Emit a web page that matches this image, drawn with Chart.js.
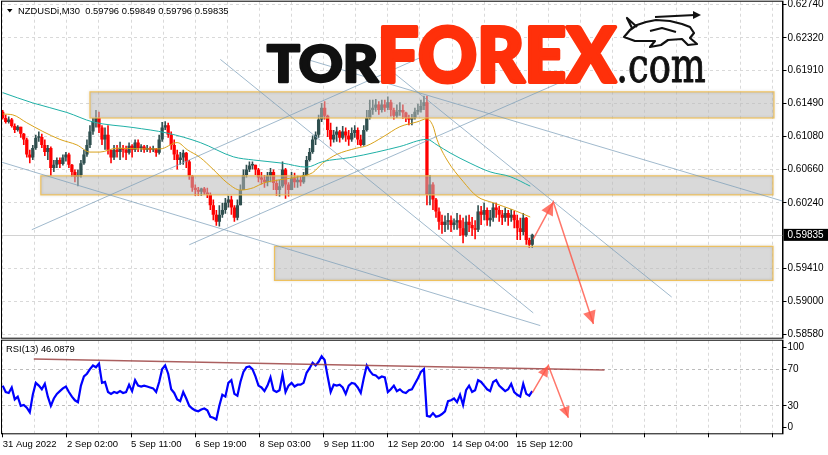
<!DOCTYPE html>
<html>
<head>
<meta charset="utf-8">
<title>NZDUSDi M30</title>
<script src="https://cdn.jsdelivr.net/npm/chart.js@4.4.1/dist/chart.umd.min.js"></script>
<style>
  html, body { margin: 0; padding: 0; background: #fff; }
  canvas { position: absolute; left: 0; }
</style>
</head>
<body>
<canvas id="priceChart" style="top:0" width="828" height="339"></canvas>
<canvas id="rsiChart" style="top:339px" width="828" height="116"></canvas>
<script>
// each drawn candle covers three M30 bars
const BARS_PER_CANDLE = 3;

const opens = [
  0.6139,0.6131,0.6126,0.6129,0.6121,0.6116,0.6120,0.6111,0.6104,0.6085,
  0.6081,0.6093,0.6106,0.6107,0.6097,0.6088,0.6093,0.6068,0.6072,0.6078,
  0.6073,0.6081,0.6085,0.6072,0.6063,0.6057,0.6059,0.6074,0.6085,0.6097,
  0.6114,0.6126,0.6131,0.6119,0.6104,0.6110,0.6091,0.6081,0.6091,0.6088,
  0.6093,0.6091,0.6087,0.6096,0.6091,0.6100,0.6093,0.6095,0.6091,0.6093,
  0.6091,0.6092,0.6087,0.6104,0.6119,0.6122,0.6110,0.6097,0.6085,0.6078,
  0.6081,0.6087,0.6076,0.6058,0.6043,0.6040,0.6038,0.6042,0.6037,0.6034,
  0.6021,0.6009,0.6000,0.6009,0.6015,0.6024,0.6028,0.6018,0.6005,0.6021,
  0.6040,0.6059,0.6066,0.6071,0.6072,0.6066,0.6056,0.6053,0.6050,0.6058,
  0.6063,0.6049,0.6040,0.6045,0.6066,0.6047,0.6040,0.6055,0.6050,0.6053,
  0.6050,0.6059,0.6078,0.6088,0.6104,0.6110,0.6129,0.6144,0.6134,0.6116,
  0.6104,0.6110,0.6114,0.6106,0.6114,0.6109,0.6104,0.6112,0.6116,0.6104,
  0.6097,0.6116,0.6131,0.6141,0.6144,0.6148,0.6141,0.6148,0.6144,0.6151,
  0.6141,0.6134,0.6139,0.6141,0.6138,0.6131,0.6129,0.6131,0.6139,0.6141,
  0.6146,0.6151,0.6034,0.6047,0.6028,0.6013,0.6000,0.5996,0.6000,0.6002,
  0.5996,0.5999,0.6002,0.5992,0.5983,0.6000,0.5996,0.5992,0.5990,0.6013,
  0.6009,0.6015,0.6002,0.6005,0.6018,0.6015,0.6009,0.6005,0.6011,0.6005,
  0.6009,0.6002,0.5992,0.5987,0.6005,0.5977,0.5971
];
const highs = [
  0.6141,0.6135,0.6133,0.6131,0.6124,0.6122,0.6120,0.6112,0.6106,0.6091,
  0.6097,0.6110,0.6114,0.6111,0.6104,0.6097,0.6095,0.6078,0.6081,0.6081,
  0.6085,0.6088,0.6087,0.6073,0.6066,0.6066,0.6078,0.6091,0.6104,0.6122,
  0.6131,0.6141,0.6139,0.6122,0.6119,0.6122,0.6091,0.6097,0.6097,0.6101,
  0.6097,0.6096,0.6100,0.6098,0.6104,0.6104,0.6098,0.6097,0.6097,0.6095,
  0.6096,0.6093,0.6110,0.6126,0.6127,0.6125,0.6114,0.6104,0.6091,0.6088,
  0.6091,0.6088,0.6078,0.6059,0.6047,0.6044,0.6043,0.6044,0.6043,0.6037,
  0.6028,0.6015,0.6021,0.6024,0.6030,0.6033,0.6033,0.6021,0.6028,0.6047,
  0.6066,0.6072,0.6076,0.6076,0.6072,0.6068,0.6063,0.6059,0.6063,0.6068,
  0.6066,0.6053,0.6053,0.6076,0.6068,0.6050,0.6063,0.6062,0.6058,0.6057,
  0.6063,0.6083,0.6093,0.6109,0.6114,0.6135,0.6150,0.6152,0.6135,0.6125,
  0.6116,0.6120,0.6116,0.6121,0.6119,0.6116,0.6119,0.6122,0.6119,0.6110,
  0.6122,0.6141,0.6154,0.6154,0.6155,0.6152,0.6154,0.6154,0.6158,0.6154,
  0.6144,0.6148,0.6151,0.6148,0.6139,0.6135,0.6136,0.6144,0.6149,0.6154,
  0.6159,0.6159,0.6059,0.6050,0.6030,0.6018,0.6009,0.6008,0.6011,0.6008,
  0.6004,0.6011,0.6009,0.6005,0.6008,0.6009,0.6006,0.6002,0.6021,0.6020,
  0.6024,0.6018,0.6015,0.6024,0.6024,0.6020,0.6015,0.6018,0.6015,0.6016,
  0.6014,0.6009,0.6005,0.6011,0.6006,0.5980,0.5985
];
const lows = [
  0.6129,0.6124,0.6124,0.6119,0.6112,0.6114,0.6106,0.6097,0.6081,0.6074,
  0.6078,0.6091,0.6101,0.6093,0.6083,0.6078,0.6058,0.6063,0.6068,0.6068,
  0.6071,0.6076,0.6068,0.6057,0.6050,0.6045,0.6056,0.6072,0.6082,0.6093,
  0.6110,0.6119,0.6112,0.6097,0.6091,0.6085,0.6074,0.6078,0.6081,0.6078,
  0.6081,0.6078,0.6085,0.6081,0.6088,0.6088,0.6088,0.6087,0.6088,0.6087,
  0.6088,0.6082,0.6085,0.6101,0.6116,0.6106,0.6091,0.6078,0.6066,0.6072,
  0.6072,0.6068,0.6053,0.6038,0.6033,0.6033,0.6033,0.6034,0.6030,0.6015,
  0.6002,0.5995,0.5994,0.6005,0.6010,0.6018,0.6009,0.6000,0.6002,0.6021,
  0.6040,0.6056,0.6063,0.6066,0.6059,0.6050,0.6047,0.6043,0.6045,0.6050,
  0.6040,0.6033,0.6032,0.6043,0.6029,0.6032,0.6040,0.6043,0.6043,0.6045,
  0.6048,0.6058,0.6076,0.6086,0.6097,0.6106,0.6126,0.6129,0.6107,0.6095,
  0.6100,0.6101,0.6100,0.6104,0.6101,0.6096,0.6101,0.6106,0.6097,0.6095,
  0.6096,0.6114,0.6129,0.6135,0.6139,0.6135,0.6138,0.6139,0.6141,0.6133,
  0.6129,0.6131,0.6134,0.6130,0.6126,0.6122,0.6122,0.6129,0.6135,0.6138,
  0.6141,0.6021,0.6021,0.6015,0.6005,0.5990,0.5985,0.5987,0.5990,0.5987,
  0.5990,0.5990,0.5982,0.5973,0.5981,0.5987,0.5982,0.5978,0.5987,0.5996,
  0.6002,0.5995,0.5994,0.6000,0.6005,0.6000,0.5996,0.6000,0.5995,0.6000,
  0.5992,0.5977,0.5977,0.5983,0.5971,0.5967,0.5967
];
const closes = [
  0.6131,0.6126,0.6129,0.6121,0.6116,0.6120,0.6111,0.6104,0.6085,0.6081,
  0.6093,0.6106,0.6107,0.6097,0.6088,0.6093,0.6068,0.6072,0.6078,0.6073,
  0.6081,0.6085,0.6072,0.6063,0.6057,0.6059,0.6074,0.6085,0.6097,0.6114,
  0.6126,0.6131,0.6119,0.6104,0.6110,0.6091,0.6081,0.6091,0.6088,0.6093,
  0.6091,0.6087,0.6096,0.6091,0.6100,0.6093,0.6095,0.6091,0.6093,0.6091,
  0.6092,0.6087,0.6104,0.6119,0.6122,0.6110,0.6097,0.6085,0.6078,0.6081,
  0.6087,0.6076,0.6058,0.6043,0.6040,0.6038,0.6042,0.6037,0.6034,0.6021,
  0.6009,0.6000,0.6009,0.6015,0.6024,0.6028,0.6018,0.6005,0.6021,0.6040,
  0.6059,0.6066,0.6071,0.6072,0.6066,0.6056,0.6053,0.6050,0.6058,0.6063,
  0.6049,0.6040,0.6045,0.6066,0.6047,0.6040,0.6055,0.6050,0.6053,0.6050,
  0.6059,0.6078,0.6088,0.6104,0.6110,0.6129,0.6144,0.6134,0.6116,0.6104,
  0.6110,0.6114,0.6106,0.6114,0.6109,0.6104,0.6112,0.6116,0.6104,0.6097,
  0.6116,0.6131,0.6141,0.6144,0.6148,0.6141,0.6148,0.6144,0.6151,0.6141,
  0.6134,0.6139,0.6141,0.6138,0.6131,0.6129,0.6131,0.6139,0.6141,0.6146,
  0.6151,0.6034,0.6047,0.6028,0.6013,0.6000,0.5996,0.6000,0.6002,0.5996,
  0.5999,0.6002,0.5992,0.5983,0.6000,0.5996,0.5992,0.5990,0.6013,0.6009,
  0.6015,0.6002,0.6005,0.6018,0.6015,0.6009,0.6005,0.6011,0.6005,0.6009,
  0.6002,0.5992,0.5987,0.6005,0.5977,0.5971,0.59835
];
const rsiValues = [
  52,45,44,50,37,40,30,31,28,23, 42,55,52,48,54,40,30,38,43,46,
  49,51,45,40,36,34,52,62,65,70, 74,72,76,55,56,45,43,45,44,46,
  44,45,53,46,58,52,51,52,51,50, 49,45,56,70,74,65,48,44,37,35,
  45,38,30,27,25,24,26,27,25,18, 17,15,30,42,40,55,58,43,41,56,
  67,72,73,70,62,52,50,46,52,61, 47,45,47,64,45,52,55,51,53,53,
  55,66,71,77,74,78,84,80,62,45, 53,52,53,50,43,52,55,54,50,44,
  60,74,68,64,63,60,62,61,45,48, 52,46,48,45,44,47,48,54,60,67,
  70,19,18,22,18,19,21,24,35,36, 38,34,42,31,47,52,45,47,58,56,
  52,48,46,56,58,52,49,46,48,54, 45,42,40,54,43,41,46.09
];

// moving averages, sampled along the curve (bar index, price)
const maFastBars = [0,10,24,40,57,74,87,97,114,137,157,174,184,197,210,224,237,250,260,276,296,309,319,333,353,363,379,396,413,423,429,433,443,459,473,489,509,526];
const maFastValues = [0.6136,0.6135,0.6125,0.6114,0.6104,0.6097,0.6088,0.6088,0.6093,0.6092,0.6092,0.6100,0.6091,0.6081,0.6066,0.6049,0.6040,0.6043,0.6049,0.6053,0.6057,0.6062,0.6074,0.6085,0.6093,0.6096,0.6107,0.6120,0.6126,0.6130,0.6121,0.6104,0.6078,0.6051,0.6032,0.6024,0.6015,0.6006];
const maSlowBars = [0,30,64,90,130,164,197,230,250,279,303,319,346,373,396,423,433,446,466,486,506,526];
const maSlowValues = [0.6163,0.6150,0.6138,0.6126,0.6119,0.6112,0.6100,0.6082,0.6078,0.6074,0.6069,0.6076,0.6081,0.6088,0.6095,0.6104,0.6097,0.6087,0.6074,0.6063,0.6057,0.6045];

// support / resistance zones
const zoneStartBar = [87, 38, 271];
const zoneEndBar = [769, 768, 768];
const zoneHigh = [0.6164, 0.6058, 0.5969];
const zoneLow = [0.6131, 0.6034, 0.5926];

// trend lines
const trendStartBar = [-3, 217, 29, 186, 384, 298];
const trendStartPrice = [0.6076, 0.6205, 0.5990, 0.5971, 0.6194, 0.6207];
const trendEndBar = [536, 529, 416, 556, 667, 823];
const trendEndPrice = [0.5869, 0.5885, 0.6207, 0.6176, 0.5905, 0.6009];

// forecast arrows
const mainArrowBars = [529, 549, 589];
const mainArrowPrices = [0.5978, 0.6025, 0.5871];
const rsiArrowBars = [528, 544, 564];
const rsiArrowValues = [44, 74, 17];
const rsiTrendBars = [31, 600];
const rsiTrendValues = [81, 69];

const priceTicks = [0.6274, 0.6232, 0.6191, 0.6149, 0.6108, 0.6066, 0.6024, 0.5941, 0.5900, 0.5858];
const dateLabels = ['31 Aug 2022', '2 Sep 02:00', '5 Sep 11:00', '6 Sep 19:00', '8 Sep 03:00', '9 Sep 11:00', '12 Sep 20:00', '14 Sep 04:00', '15 Sep 12:00'];
const rsiTickAnchors = [6.5, 30, 70, 93.5];   // 0 and 100 sit just inside the pane, as in the terminal
const rsiTickLabels = ['0', '30', '70', '100'];
const rsiLevels = [30, 70];
const headerOHLC = [0.59796, 0.59849, 0.59796, 0.59835];
const lastPrice = 0.59835;
const rsiLast = 46.0879;

const BAR_MIN = -0.7, BAR_MAX = 777.5;
const PRICE_MIN = 0.58537, PRICE_MAX = 0.62778;
const GRID_STEP = 32;
const AXIS_W = 45.5;

const BULL = '#2f4f4f', BEAR = '#ff0000';
const GRID = '#d9d9d9';
const TREND = 'rgba(120,155,182,0.7)';
const ARROW = 'rgba(255,85,70,0.8)';
const FONT = '"Liberation Sans", Arial, sans-serif';

Chart.defaults.font.family = FONT;
Chart.defaults.color = '#000';

const gridBars = Array.from({ length: Math.floor(BAR_MAX / GRID_STEP) + 1 }, (_, k) => k * GRID_STEP);
const candleX = opens.map((_, i) => i * BARS_PER_CANDLE);
const candleColors = closes.map((c, i) => (c >= opens[i] ? BULL : BEAR));
const pts = (xs, ys) => xs.map((x, i) => ({ x, y: ys[i] }));

// plot frame
const frame = {
  id: 'frame',
  afterDraw(chart) {
    const { ctx, chartArea: a } = chart;
    ctx.save();
    ctx.strokeStyle = '#000';
    ctx.lineWidth = 1;
    ctx.strokeRect(a.left - 0.5, a.top - 0.5, a.right - a.left + 1, a.bottom - a.top + 1);
    ctx.restore();
  }
};

// arrow heads on every segment end of datasets that ask for them
const arrowHeads = {
  id: 'arrowHeads',
  afterDatasetsDraw(chart) {
    const ctx = chart.ctx;
    chart.data.datasets.forEach((ds, di) => {
      if (!ds.arrowSize) return;
      const p = chart.getDatasetMeta(di).data;
      ctx.save();
      ctx.fillStyle = ds.borderColor;
      for (let j = 1; j < p.length; j++) {
        const ang = Math.atan2(p[j].y - p[j - 1].y, p[j].x - p[j - 1].x);
        const L = ds.arrowSize, W = ds.arrowSize * 0.5;
        const bx = p[j].x - L * Math.cos(ang), by = p[j].y - L * Math.sin(ang);
        ctx.beginPath();
        ctx.moveTo(p[j].x, p[j].y);
        ctx.lineTo(bx + W * Math.sin(ang), by - W * Math.cos(ang));
        ctx.lineTo(bx - W * Math.sin(ang), by + W * Math.cos(ang));
        ctx.closePath();
        ctx.fill();
      }
      ctx.restore();
    });
  }
};

// zones go on top of the candles, under the lines
const zones = {
  id: 'zones',
  afterDatasetDraw(chart, args) {
    if (!chart.data.datasets[args.index].zonesAfter) return;
    const { ctx, scales: { x, y } } = chart;
    ctx.save();
    zoneStartBar.forEach((b, k) => {
      const x0 = x.getPixelForValue(b), x1 = x.getPixelForValue(zoneEndBar[k]);
      const y0 = y.getPixelForValue(zoneHigh[k]), y1 = y.getPixelForValue(zoneLow[k]);
      ctx.fillStyle = 'rgba(185,185,185,0.55)';
      ctx.fillRect(x0, y0, x1 - x0, y1 - y0);
      ctx.shadowColor = 'rgba(0,0,0,0.2)';
      ctx.shadowBlur = 3;
      ctx.strokeStyle = 'rgba(240,190,80,0.9)';
      ctx.lineWidth = 1.2;
      ctx.strokeRect(x0, y0, x1 - x0, y1 - y0);
      ctx.shadowBlur = 0;
    });
    ctx.restore();
  }
};

// bid line, header, price label
const priceDecor = {
  id: 'priceDecor',
  beforeDatasetsDraw(chart) {
    const { ctx, chartArea: a, scales: { y } } = chart;
    const py = Math.round(y.getPixelForValue(lastPrice)) + 0.5;
    ctx.save();
    ctx.strokeStyle = '#d2d2d2';
    ctx.lineWidth = 1;
    ctx.beginPath(); ctx.moveTo(a.left, py); ctx.lineTo(a.right, py); ctx.stroke();
    ctx.restore();
  },
  afterDraw(chart) {
    const { ctx, chartArea: a, scales: { y } } = chart;
    ctx.save();
    ctx.fillStyle = '#000';
    ctx.beginPath(); ctx.moveTo(7, 9); ctx.lineTo(12.5, 9); ctx.lineTo(9.75, 12.5); ctx.closePath(); ctx.fill();
    ctx.font = '9.4px ' + FONT;
    ctx.textBaseline = 'middle';
    ctx.fillText('NZDUSDi,M30  ' + headerOHLC.map(v => v.toFixed(5)).join(' '), 18, 11);
    const py = y.getPixelForValue(lastPrice);
    ctx.fillRect(a.right + 1, py - 6, 828 - a.right, 12);
    ctx.fillStyle = '#fff';
    ctx.font = '10px ' + FONT;
    ctx.fillText(lastPrice.toFixed(5), a.right + 5, py + 0.5);
    ctx.restore();
  }
};

function drawWord(ctx, text, font, color, left, baseline, width, height, weight) {
  ctx.font = font;
  const m = ctx.measureText(text);
  const sx = width / (m.actualBoundingBoxLeft + m.actualBoundingBoxRight);
  const sy = height / m.actualBoundingBoxAscent;
  ctx.save();
  ctx.translate(left, baseline);
  ctx.scale(sx, sy);
  ctx.fillStyle = color;
  ctx.fillText(text, m.actualBoundingBoxLeft, 0);
  if (weight) {
    // extra stroke to get the heavy logo weight
    ctx.strokeStyle = color;
    ctx.lineWidth = weight;
    ctx.lineJoin = 'round';
    ctx.strokeText(text, m.actualBoundingBoxLeft, 0);
  }
  ctx.restore();
}

const logo = {
  id: 'logo',
  afterDatasetsDraw(chart) {
    const ctx = chart.ctx;
    ctx.save();
    ctx.textBaseline = 'alphabetic';
    drawWord(ctx, 'TOR', '900 60px Lato, "DejaVu Sans"', '#111', 267, 82, 112, 38, 3);
    drawWord(ctx, 'FOREX', '900 60px Lato, "DejaVu Sans"', '#ff300a', 382, 82, 234, 56, 3);
    drawWord(ctx, '.com', '40px "DejaVu Serif", serif', '#111', 619, 82, 86, 25, 0.8);
    // bull
    ctx.lineWidth = 2.2;
    ctx.strokeStyle = '#111';
    ctx.fillStyle = '#fff';
    ctx.lineJoin = 'round';
    ctx.beginPath();
    [[624,37],[630,30],[637,25],[646,22],[656,20],[670,21],[682,24],[690,27],[694,33],[690,38],[697,44],[688,45],[682,39],[668,40],[661,45],[650,47],[655,41],[645,41],[635,41]]
      .forEach(([px, py], k) => (k ? ctx.lineTo(px, py) : ctx.moveTo(px, py)));
    ctx.closePath(); ctx.fill(); ctx.stroke();
    ctx.beginPath(); ctx.moveTo(637, 27); ctx.lineTo(627, 18); ctx.lineTo(632, 28); ctx.stroke();
    ctx.beginPath(); ctx.moveTo(650, 31); ctx.lineTo(662, 28); ctx.lineTo(676, 32); ctx.stroke();
    ctx.beginPath(); ctx.moveTo(655, 17); ctx.lineTo(695, 15); ctx.stroke();
    ctx.fillStyle = '#111';
    ctx.beginPath(); ctx.moveTo(701, 15); ctx.lineTo(693, 11); ctx.lineTo(693, 19); ctx.closePath(); ctx.fill();
    ctx.restore();
  }
};

const trendSets = trendStartBar.map((b, k) => ({
  type: 'line',
  data: [{ x: b, y: trendStartPrice[k] }, { x: trendEndBar[k], y: trendEndPrice[k] }],
  borderColor: TREND, borderWidth: 1, pointRadius: 0, order: 4
}));

new Chart(document.getElementById('priceChart'), {
  type: 'bar',
  data: {
    datasets: [
      { label: 'wicks', data: candleX.map((x, i) => ({ x, y: [lows[i], highs[i]] })),
        backgroundColor: candleColors, barThickness: 1.6, grouped: false, inflateAmount: 0, order: 10 },
      { label: 'bodies', data: candleX.map((x, i) => ({ x, y: [opens[i], closes[i]] })),
        backgroundColor: candleColors, barThickness: 3.3, minBarLength: 1.5, grouped: false, inflateAmount: 0, order: 9, zonesAfter: true },
      { type: 'line', label: 'MA fast', data: pts(maFastBars, maFastValues), borderColor: '#d9a21b',
        borderWidth: 1, pointRadius: 0, cubicInterpolationMode: 'monotone', order: 6 },
      { type: 'line', label: 'MA slow', data: pts(maSlowBars, maSlowValues), borderColor: '#1fb0a6',
        borderWidth: 1, pointRadius: 0, cubicInterpolationMode: 'monotone', order: 5 },
      ...trendSets,
      { type: 'line', label: 'forecast', data: pts(mainArrowBars, mainArrowPrices), borderColor: ARROW,
        borderWidth: 1.5, pointRadius: 0, arrowSize: 13, order: 1 }
    ]
  },
  options: {
    responsive: false,
    animation: false,
    events: [],
    layout: { padding: { left: 2, top: 1.7, right: 0, bottom: 1.3 } },
    plugins: { legend: { display: false }, tooltip: { enabled: false } },
    scales: {
      x: {
        type: 'linear', min: BAR_MIN, max: BAR_MAX, offset: false,
        grid: { color: GRID, offset: false, drawTicks: false },
        border: { display: false, dash: [3, 3] },
        ticks: { display: false },
        afterBuildTicks: s => { s.ticks = gridBars.map(v => ({ value: v })); },
        afterFit: s => { s.height = 0; s.paddingLeft = 0; s.paddingRight = 0; }
      },
      y: {
        position: 'right', min: PRICE_MIN, max: PRICE_MAX,
        grid: { color: GRID, tickColor: '#000', tickLength: 4 },
        border: { color: '#000', dash: [3, 3] },
        ticks: { padding: 1, font: { size: 10 }, callback: v => v.toFixed(5) },
        afterBuildTicks: s => { s.ticks = priceTicks.map(v => ({ value: v })); },
        afterFit: s => { s.width = AXIS_W; s.paddingTop = 0; s.paddingBottom = 0; }
      }
    }
  },
  plugins: [zones, priceDecor, arrowHeads, logo, frame]
});

const rsiHeader = {
  id: 'rsiHeader',
  afterDraw(chart) {
    const ctx = chart.ctx;
    ctx.save();
    ctx.fillStyle = '#000';
    ctx.font = '9.4px ' + FONT;
    ctx.textBaseline = 'middle';
    ctx.fillText('RSI(13) ' + rsiLast.toFixed(4), 6, 10);
    ctx.restore();
  }
};

new Chart(document.getElementById('rsiChart'), {
  type: 'line',
  data: {
    datasets: [
      { label: 'RSI(13)', data: pts(candleX, rsiValues), borderColor: '#0000ff', borderWidth: 2.2,
        pointRadius: 0, order: 3 },
      { label: 'RSI trend', data: pts(rsiTrendBars, rsiTrendValues), borderColor: 'rgba(150,55,55,0.8)',
        borderWidth: 1.5, pointRadius: 0, order: 2 },
      { label: 'RSI forecast', data: pts(rsiArrowBars, rsiArrowValues), borderColor: ARROW,
        borderWidth: 1.5, pointRadius: 0, arrowSize: 11, order: 1 }
    ]
  },
  options: {
    responsive: false,
    animation: false,
    events: [],
    layout: { padding: { left: 2, top: 1.7, right: 0, bottom: 0 } },
    plugins: { legend: { display: false }, tooltip: { enabled: false } },
    scales: {
      x: {
        type: 'linear', min: BAR_MIN, max: BAR_MAX,
        grid: { color: GRID, tickLength: 4, tickColor: c => (c.index % 2 === 0 ? '#000' : 'rgba(0,0,0,0)') },
        border: { display: false, dash: [3, 3] },
        ticks: {
          align: 'start', autoSkip: false, maxRotation: 0, padding: 1, font: { size: 9.5 },
          callback: (v, i) => (i % 2 === 0 ? (dateLabels[i / 2] || '') : '')
        },
        afterBuildTicks: s => { s.ticks = gridBars.map(v => ({ value: v })); },
        afterFit: s => { s.height = 21.7; s.paddingLeft = 0; s.paddingRight = 0; }
      },
      y: {
        position: 'right', min: 0, max: 101,
        grid: { color: c => (rsiLevels.includes(c.tick.value) ? '#bcbcbc' : 'rgba(0,0,0,0)'), tickColor: '#000', tickLength: 4 },
        border: { color: '#000', dash: [3, 3] },
        ticks: { padding: 1, font: { size: 10 }, callback: (v, i) => rsiTickLabels[i] },
        afterBuildTicks: s => { s.ticks = rsiTickAnchors.map(v => ({ value: v })); },
        afterFit: s => { s.width = AXIS_W; s.paddingTop = 0; s.paddingBottom = 0; }
      }
    }
  },
  plugins: [arrowHeads, rsiHeader, frame]
});
</script>
</body>
</html>
